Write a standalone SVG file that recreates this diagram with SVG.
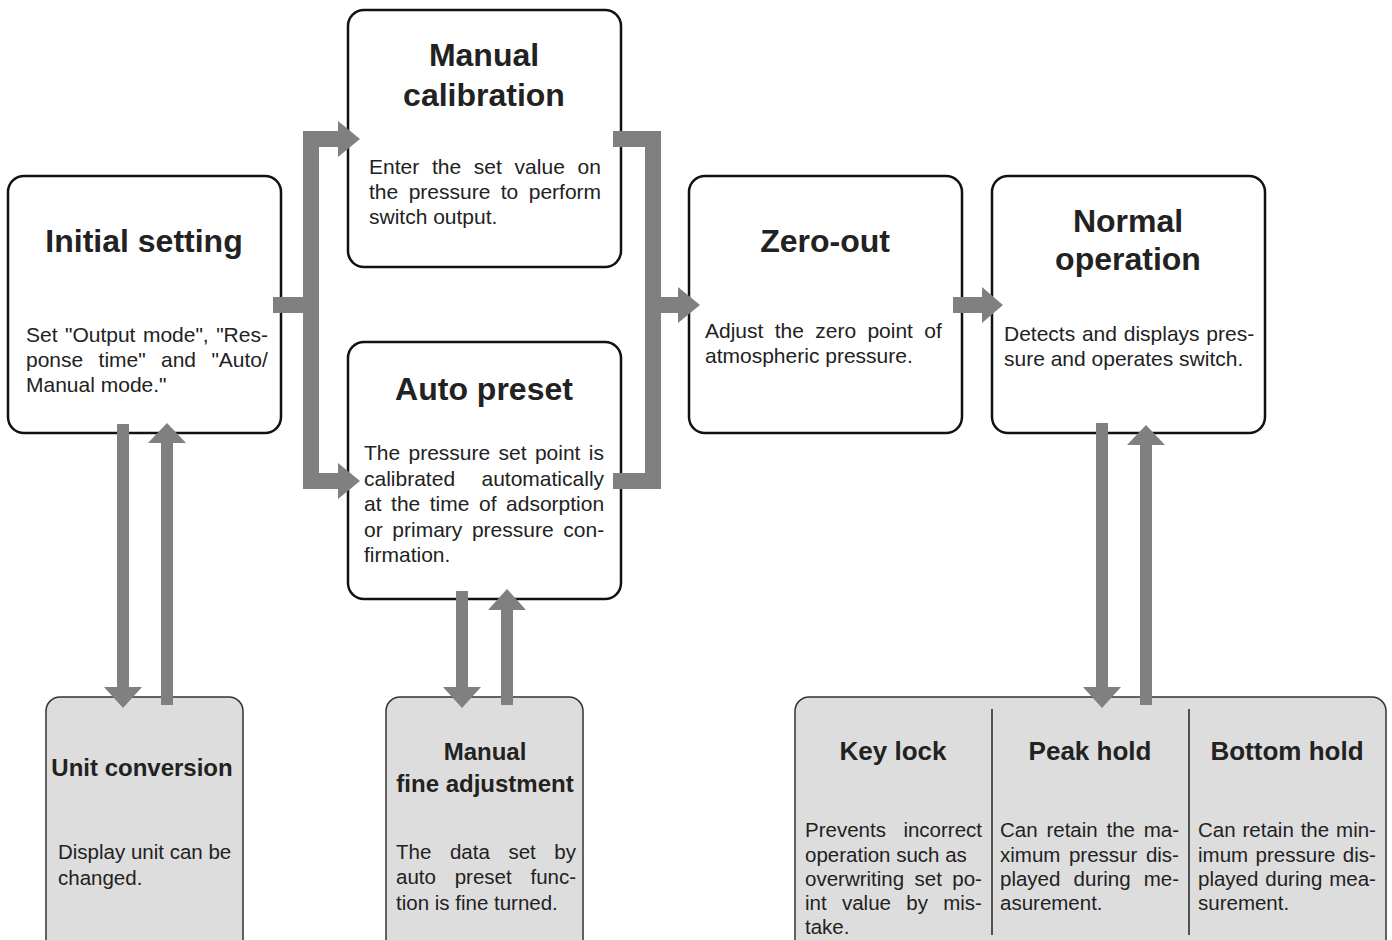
<svg xmlns="http://www.w3.org/2000/svg" width="1392" height="940" viewBox="0 0 1392 940">
<style>
.box{fill:#fff;stroke:#111;stroke-width:2.5}
.sub{fill:#dddddd;stroke:#333;stroke-width:1.5}
.t{font-family:"Liberation Sans",Arial,sans-serif;font-weight:bold;font-size:32px;fill:#222;text-anchor:middle}
.t2{font-family:"Liberation Sans",Arial,sans-serif;font-weight:bold;font-size:24px;fill:#222;text-anchor:middle}
.t3{font-family:"Liberation Sans",Arial,sans-serif;font-weight:bold;font-size:26px;fill:#222;text-anchor:middle}
.b{font-family:"Liberation Sans",Arial,sans-serif;font-size:21px;fill:#222}
.s{font-family:"Liberation Sans",Arial,sans-serif;font-size:20.5px;fill:#222}
.c{fill:#808080}
.div{stroke:#222;stroke-width:1.5}
</style>
<rect width="1392" height="940" fill="#fff"/>
<g id="initial-setting">
<rect class="box" x="8" y="176" width="273" height="257" rx="16"/>
<text class="t" x="144" y="252">Initial setting</text>
<text class="b" x="26" y="342" word-spacing="1.6">Set "Output mode", "Res-</text>
<text class="b" x="26" y="367" word-spacing="9.5">ponse time" and "Auto/</text>
<text class="b" x="26" y="392">Manual mode."</text>
</g>
<g id="manual-calibration">
<rect class="box" x="348" y="10" width="273" height="257" rx="16"/>
<text class="t" x="484" y="66">Manual</text>
<text class="t" x="484" y="106">calibration</text>
<text class="b" x="369" y="174" word-spacing="6.9">Enter the set value on</text>
<text class="b" x="369" y="199" word-spacing="4.6">the pressure to perform</text>
<text class="b" x="369" y="224">switch output.</text>
</g>
<g id="auto-preset">
<rect class="box" x="348" y="342" width="273" height="257" rx="16"/>
<text class="t" x="484" y="400">Auto preset</text>
<text class="b" x="364" y="460" word-spacing="2.5">The pressure set point is</text>
<text class="b" x="364" y="486" word-spacing="20.6">calibrated automatically</text>
<text class="b" x="364" y="511" word-spacing="3.7">at the time of adsorption</text>
<text class="b" x="364" y="537" word-spacing="3.8">or primary pressure con-</text>
<text class="b" x="364" y="562">firmation.</text>
</g>
<g id="zero-out">
<rect class="box" x="689" y="176" width="273" height="257" rx="16"/>
<text class="t" x="825" y="252">Zero-out</text>
<text class="b" x="705" y="338" word-spacing="5.5">Adjust the zero point of</text>
<text class="b" x="705" y="363">atmospheric pressure.</text>
</g>
<g id="normal-operation">
<rect class="box" x="992" y="176" width="273" height="257" rx="16"/>
<text class="t" x="1128" y="232">Normal</text>
<text class="t" x="1128" y="270">operation</text>
<text class="b" x="1004" y="341" word-spacing="0.9">Detects and displays pres-</text>
<text class="b" x="1004" y="366">sure and operates switch.</text>
</g>
<g id="unit-conversion">
<rect class="sub" x="46" y="697" width="197" height="260" rx="14"/>
<text class="t2" x="142" y="776">Unit conversion</text>
<text class="s" x="58" y="859">Display unit can be</text>
<text class="s" x="58" y="885">changed.</text>
</g>
<g id="manual-fine-adjustment">
<rect class="sub" x="386" y="697" width="197" height="260" rx="14"/>
<text class="t2" x="485" y="760">Manual</text>
<text class="t2" x="485" y="792">fine adjustment</text>
<text class="s" x="396" y="859" word-spacing="12.9">The data set by</text>
<text class="s" x="396" y="884" word-spacing="13.1">auto preset func-</text>
<text class="s" x="396" y="910">tion is fine turned.</text>
</g>
<g id="functions">
<rect class="sub" x="795" y="697" width="591" height="260" rx="14"/>
<line class="div" x1="992" y1="709" x2="992" y2="935"/>
<line class="div" x1="1189" y1="709" x2="1189" y2="935"/>
<g id="key-lock">
<text class="t3" x="893" y="760">Key lock</text>
<text class="s" x="805" y="837" word-spacing="11.8">Prevents incorrect</text>
<text class="s" x="805" y="862">operation such as</text>
<text class="s" x="805" y="886" word-spacing="4.7">overwriting set po-</text>
<text class="s" x="805" y="910" word-spacing="9.6">int value by mis-</text>
<text class="s" x="805" y="934">take.</text>
</g>
<g id="peak-hold">
<text class="t3" x="1090" y="760">Peak hold</text>
<text class="s" x="1000" y="837" word-spacing="3.1">Can retain the ma-</text>
<text class="s" x="1000" y="862" word-spacing="2.9">ximum pressur dis-</text>
<text class="s" x="1000" y="886" word-spacing="7.5">played during me-</text>
<text class="s" x="1000" y="910">asurement.</text>
</g>
<g id="bottom-hold">
<text class="t3" x="1287" y="760">Bottom hold</text>
<text class="s" x="1198" y="837" word-spacing="1.2">Can retain the min-</text>
<text class="s" x="1198" y="862" word-spacing="1.8">imum pressure dis-</text>
<text class="s" x="1198" y="886" word-spacing="1.2">played during mea-</text>
<text class="s" x="1198" y="910">surement.</text>
</g>
</g>
<g id="connectors" class="c">
<rect x="273" y="297" width="31" height="16"/>
<rect x="303" y="131" width="16" height="358"/>
<polygon points="303,131 338,131 338,121 360,139 338,157 338,147 303,147"/>
<polygon points="303,473 338,473 338,463 360,481 338,499 338,489 303,489"/>
<rect x="613" y="131" width="48" height="16"/>
<rect x="613" y="473" width="48" height="16"/>
<rect x="645" y="131" width="16" height="358"/>
<polygon points="660,297 678,297 678,287 700,305 678,323 678,313 660,313"/>
<polygon points="953,297 982,297 982,287 1003,305 982,323 982,313 953,313"/>
<polygon points="117,424 129,424 129,687 142,687 123,708 104,687 117,687"/>
<polygon points="161,705 173,705 173,443 186,443 167,423 148,443 161,443"/>
<polygon points="456,591 468,591 468,687 481,687 462,708 443,687 456,687"/>
<polygon points="501,705 513,705 513,610 526,610 507,589 488,610 501,610"/>
<polygon points="1096,423 1108,423 1108,687 1121,687 1102,708 1083,687 1096,687"/>
<polygon points="1140,705 1152,705 1152,445 1165,445 1146,425 1127,445 1140,445"/>
</g>
</svg>
